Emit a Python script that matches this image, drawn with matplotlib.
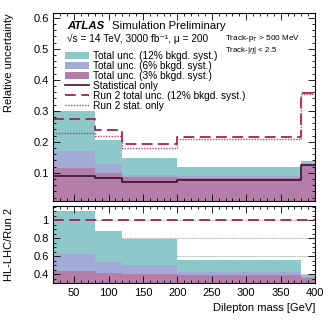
import numpy as np
import matplotlib
matplotlib.use('Agg')
import matplotlib.pyplot as plt
from matplotlib.patches import Patch
from matplotlib.lines import Line2D
from matplotlib.ticker import MultipleLocator

plt.rcParams['font.family'] = ['Liberation Sans', 'DejaVu Sans']
plt.rcParams['mathtext.fontset'] = 'custom'
plt.rcParams['mathtext.rm'] = 'Liberation Sans'
plt.rcParams['mathtext.it'] = 'Liberation Sans:italic'
plt.rcParams['mathtext.bf'] = 'Liberation Sans:bold'

# bin edges in dilepton mass [GeV]
edges = [20, 80, 120, 200, 380, 400]

# relative uncertainty per bin
tot12 = [0.298, 0.206, 0.149, 0.119, 0.139]
tot6 = [0.169, 0.128, 0.094, 0.090, 0.131]
tot3 = [0.115, 0.098, 0.087, 0.083, 0.128]
stat = [0.090, 0.082, 0.071, 0.077, 0.126]
run2_tot = [0.272, 0.239, 0.193, 0.214, 0.359]
run2_stat = [0.228, 0.217, 0.180, 0.209, 0.355]

# HL-LHC / Run 2 ratio per bin
ratio12 = [1.10, 0.877, 0.79, 0.555, 0.386]
ratio6 = [0.624, 0.54, 0.497, 0.42, 0.372]
ratio3 = [0.43, 0.41, 0.40, 0.385, 0.36]
ratio_ref = [1.0, 1.0, 1.0, 1.0, 1.0]

c_teal = '#8ec8c9'
c_lav = '#a2abd5'
c_mauve = '#b37ea7'
c_stat = '#3b0f2e'
c_run2 = '#a1244f'
c_run2s = '#c0406b'


def steps(vals):
    return list(vals) + [vals[-1]]


fig = plt.figure(figsize=(3.32, 3.22), dpi=100)
ax = fig.add_axes([0.161, 0.377, 0.788, 0.582])
rx = fig.add_axes([0.161, 0.121, 0.788, 0.239], sharex=ax)

for a in (ax, rx):
    a.tick_params(which='both', direction='in', top=True, right=True, labelsize=8, width=0.6)
    a.tick_params(which='major', length=5)
    a.tick_params(which='minor', length=2.5)
    for s in a.spines.values():
        s.set_linewidth(0.8)

# upper panel
ax.fill_between(edges, steps(tot12), 0, step='post', color=c_teal, lw=0)
ax.fill_between(edges, steps(tot6), 0, step='post', color=c_lav, lw=0)
ax.fill_between(edges, steps(tot3), 0, step='post', color=c_mauve, lw=0)
ax.step(edges, steps(stat), where='post', color=c_stat, lw=1.2)
ax.step(edges, steps(run2_tot), where='post', color=c_run2, lw=1.3, dashes=(6, 3))
ax.step(edges, steps(run2_stat), where='post', color=c_run2s, lw=1.0, ls=(0, (1, 1)))

ax.set_xlim(20, 400)
ax.set_ylim(0.01, 0.615)
ax.yaxis.set_major_locator(MultipleLocator(0.1))
ax.yaxis.set_minor_locator(MultipleLocator(0.02))
ax.xaxis.set_major_locator(MultipleLocator(50))
ax.xaxis.set_minor_locator(MultipleLocator(10))
ax.tick_params(labelbottom=False)
ax.set_ylabel('Relative uncertainty', loc='top', fontsize=8)
ax.yaxis.set_label_coords(-0.15, 1.0)

ax.text(0.052, 0.915, 'ATLAS', transform=ax.transAxes, fontsize=8.2,
        fontweight='bold', fontstyle='italic')
ax.text(0.225, 0.915, 'Simulation Preliminary', transform=ax.transAxes, fontsize=8.2)
ax.text(0.052, 0.848, '√s = 14 TeV, 3000 fb⁻¹, μ = 200',
        transform=ax.transAxes, fontsize=7.3)

# small selection text, sized to the width it has in the picture (in pixels)
renderer = fig.canvas.get_renderer()
for label, ypos, width_px in [(r'Track-p$_\mathrm{T}$ > 500 MeV', 0.866, 76),
                              (r'Track-|$\eta$| < 2.5', 0.80, 53)]:
    t = ax.text(0.656, ypos, label, transform=ax.transAxes, fontsize=6, va='center')
    w = t.get_window_extent(renderer).width
    t.set_fontsize(6 * width_px / w)

handles = [
    Patch(color=c_teal, lw=0),
    Patch(color=c_lav, lw=0),
    Patch(color=c_mauve, lw=0),
    Line2D([], [], color=c_stat, lw=1.2),
    Line2D([], [], color=c_run2, lw=1.3, dashes=(6, 3)),
    Line2D([], [], color=c_run2s, lw=1.0, ls=(0, (1, 1))),
]
labels = [
    'Total unc. (12% bkgd. syst.)',
    'Total unc. (6% bkgd. syst.)',
    'Total unc. (3% bkgd. syst.)',
    'Statistical only',
    'Run 2 total unc. (12% bkgd. syst.)',
    'Run 2 stat. only',
]
ax.legend(handles, labels, loc='upper left', bbox_to_anchor=(0.045, 0.80),
          frameon=False, fontsize=7.3, labelspacing=0.0, handlelength=2.3,
          handleheight=0.7, handletextpad=0.45, borderpad=0, borderaxespad=0)

# ratio panel
for yv in [0.4, 0.6, 0.8, 1.0]:
    rx.axhline(yv, color='#888888', lw=0.6, ls=(0, (1, 1)), zorder=0)
rx.fill_between(edges, steps(ratio12), 0, step='post', color=c_teal, lw=0, zorder=1)
rx.fill_between(edges, steps(ratio6), 0, step='post', color=c_lav, lw=0, zorder=1)
rx.fill_between(edges, steps(ratio3), 0, step='post', color=c_mauve, lw=0, zorder=1)
rx.step(edges, steps(ratio_ref), where='post', color=c_run2, lw=1.3, dashes=(6, 3), zorder=2)

rx.set_ylim(0.3, 1.16)
rx.yaxis.set_minor_locator(MultipleLocator(0.05))
rx.set_yticks([0.4, 0.6, 0.8, 1.0])
rx.set_yticklabels(['0.4', '0.6', '0.8', '1'])
rx.set_ylabel('HL-LHC/Run 2', fontsize=8)
rx.yaxis.set_label_coords(-0.15, 0.5)
rx.set_xlabel('Dilepton mass [GeV]', loc='right', fontsize=8)

fig.savefig('out.png', dpi=100)
